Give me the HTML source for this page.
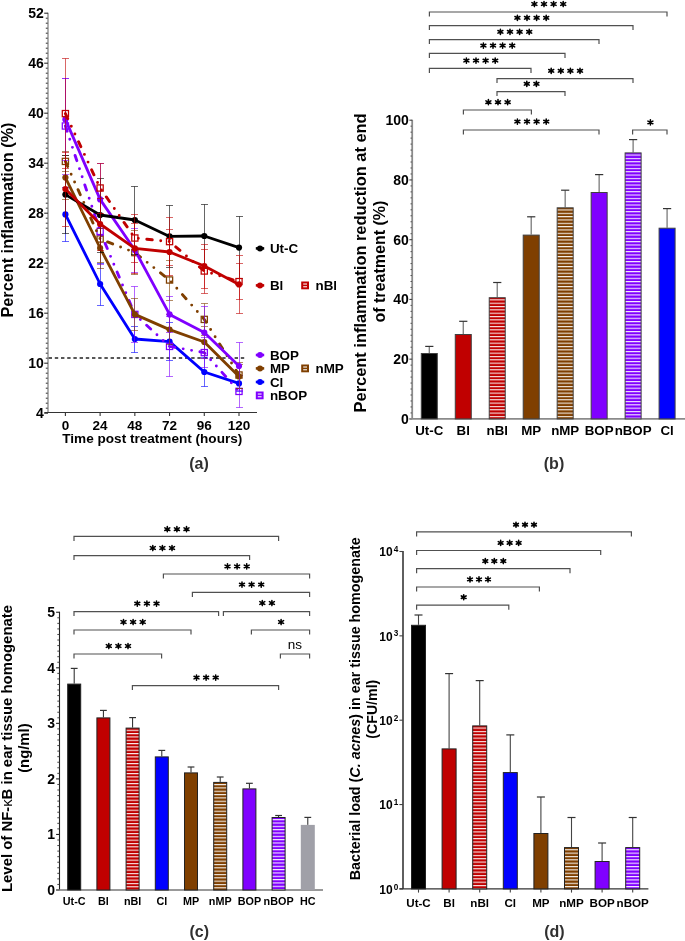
<!DOCTYPE html>
<html><head><meta charset="utf-8"><title>Figure</title>
<style>html,body{margin:0;padding:0;background:#fff;}svg{display:block;will-change:transform;}
text{font-family:"Liberation Sans", sans-serif;}</style></head>
<body>
<svg width="685" height="941" viewBox="0 0 685 941" font-family="'Liberation Sans', sans-serif"><defs><pattern id="p1" patternUnits="userSpaceOnUse" x="0" y="299.35" width="20" height="3.33"><rect width="20" height="3.33" fill="#c00000"/><rect y="0" width="20" height="1.1" fill="#fff" opacity="0.92"/></pattern><pattern id="p2" patternUnits="userSpaceOnUse" x="0" y="209.45" width="20" height="3.33"><rect width="20" height="3.33" fill="#7f3f00"/><rect y="0" width="20" height="1.1" fill="#fff" opacity="0.92"/></pattern><pattern id="p3" patternUnits="userSpaceOnUse" x="0" y="154.55" width="20" height="3.33"><rect width="20" height="3.33" fill="#8000ff"/><rect y="0" width="20" height="1.1" fill="#fff" opacity="0.92"/></pattern><pattern id="p4" patternUnits="userSpaceOnUse" x="0" y="729.75" width="20" height="3.33"><rect width="20" height="3.33" fill="#c00000"/><rect y="0" width="20" height="1.1" fill="#fff" opacity="0.92"/></pattern><pattern id="p5" patternUnits="userSpaceOnUse" x="0" y="784.05" width="20" height="3.33"><rect width="20" height="3.33" fill="#7f3f00"/><rect y="0" width="20" height="1.1" fill="#fff" opacity="0.92"/></pattern><pattern id="p6" patternUnits="userSpaceOnUse" x="0" y="819.15" width="20" height="3.33"><rect width="20" height="3.33" fill="#8000ff"/><rect y="0" width="20" height="1.1" fill="#fff" opacity="0.92"/></pattern><pattern id="p7" patternUnits="userSpaceOnUse" x="0" y="727.55" width="20" height="3.35"><rect width="20" height="3.35" fill="#c00000"/><rect y="0" width="20" height="1.1" fill="#fff" opacity="0.92"/></pattern><pattern id="p8" patternUnits="userSpaceOnUse" x="0" y="849.25" width="20" height="3.35"><rect width="20" height="3.35" fill="#7f3f00"/><rect y="0" width="20" height="1.1" fill="#fff" opacity="0.92"/></pattern><pattern id="p9" patternUnits="userSpaceOnUse" x="0" y="849.25" width="20" height="3.35"><rect width="20" height="3.35" fill="#8000ff"/><rect y="0" width="20" height="1.1" fill="#fff" opacity="0.92"/></pattern></defs><rect width="685" height="941" fill="#fff"/><line x1="48" y1="12.7" x2="48" y2="412.5" stroke="#a8a8a8" stroke-width="1.8" />
<line x1="44.2" y1="13.2" x2="48" y2="13.2" stroke="#303030" stroke-width="1.1" />
<text x="43.9" y="18" font-size="14" font-weight="bold" fill="#000" text-anchor="end">52</text>
<line x1="45.8" y1="18.2" x2="47.7" y2="18.2" stroke="#303030" stroke-width="1" />
<line x1="45.8" y1="23.2" x2="47.7" y2="23.2" stroke="#303030" stroke-width="1" />
<line x1="45.8" y1="28.2" x2="47.7" y2="28.2" stroke="#303030" stroke-width="1" />
<line x1="45.8" y1="33.2" x2="47.7" y2="33.2" stroke="#303030" stroke-width="1" />
<line x1="45.8" y1="38.2" x2="47.7" y2="38.2" stroke="#303030" stroke-width="1" />
<line x1="45.8" y1="43.2" x2="47.7" y2="43.2" stroke="#303030" stroke-width="1" />
<line x1="45.8" y1="48.2" x2="47.7" y2="48.2" stroke="#303030" stroke-width="1" />
<line x1="45.8" y1="53.2" x2="47.7" y2="53.2" stroke="#303030" stroke-width="1" />
<line x1="45.8" y1="58.2" x2="47.7" y2="58.2" stroke="#303030" stroke-width="1" />
<line x1="44.2" y1="63.2" x2="48" y2="63.2" stroke="#303030" stroke-width="1.1" />
<text x="43.9" y="68" font-size="14" font-weight="bold" fill="#000" text-anchor="end">46</text>
<line x1="45.8" y1="68.2" x2="47.7" y2="68.2" stroke="#303030" stroke-width="1" />
<line x1="45.8" y1="73.2" x2="47.7" y2="73.2" stroke="#303030" stroke-width="1" />
<line x1="45.8" y1="78.2" x2="47.7" y2="78.2" stroke="#303030" stroke-width="1" />
<line x1="45.8" y1="83.2" x2="47.7" y2="83.2" stroke="#303030" stroke-width="1" />
<line x1="45.8" y1="88.2" x2="47.7" y2="88.2" stroke="#303030" stroke-width="1" />
<line x1="45.8" y1="93.2" x2="47.7" y2="93.2" stroke="#303030" stroke-width="1" />
<line x1="45.8" y1="98.2" x2="47.7" y2="98.2" stroke="#303030" stroke-width="1" />
<line x1="45.8" y1="103.2" x2="47.7" y2="103.2" stroke="#303030" stroke-width="1" />
<line x1="45.8" y1="108.2" x2="47.7" y2="108.2" stroke="#303030" stroke-width="1" />
<line x1="44.2" y1="113.2" x2="48" y2="113.2" stroke="#303030" stroke-width="1.1" />
<text x="43.9" y="118" font-size="14" font-weight="bold" fill="#000" text-anchor="end">40</text>
<line x1="45.8" y1="118.2" x2="47.7" y2="118.2" stroke="#303030" stroke-width="1" />
<line x1="45.8" y1="123.2" x2="47.7" y2="123.2" stroke="#303030" stroke-width="1" />
<line x1="45.8" y1="128.2" x2="47.7" y2="128.2" stroke="#303030" stroke-width="1" />
<line x1="45.8" y1="133.2" x2="47.7" y2="133.2" stroke="#303030" stroke-width="1" />
<line x1="45.8" y1="138.2" x2="47.7" y2="138.2" stroke="#303030" stroke-width="1" />
<line x1="45.8" y1="143.2" x2="47.7" y2="143.2" stroke="#303030" stroke-width="1" />
<line x1="45.8" y1="148.2" x2="47.7" y2="148.2" stroke="#303030" stroke-width="1" />
<line x1="45.8" y1="153.2" x2="47.7" y2="153.2" stroke="#303030" stroke-width="1" />
<line x1="45.8" y1="158.2" x2="47.7" y2="158.2" stroke="#303030" stroke-width="1" />
<line x1="44.2" y1="163.2" x2="48" y2="163.2" stroke="#303030" stroke-width="1.1" />
<text x="43.9" y="168" font-size="14" font-weight="bold" fill="#000" text-anchor="end">34</text>
<line x1="45.8" y1="168.2" x2="47.7" y2="168.2" stroke="#303030" stroke-width="1" />
<line x1="45.8" y1="173.2" x2="47.7" y2="173.2" stroke="#303030" stroke-width="1" />
<line x1="45.8" y1="178.2" x2="47.7" y2="178.2" stroke="#303030" stroke-width="1" />
<line x1="45.8" y1="183.2" x2="47.7" y2="183.2" stroke="#303030" stroke-width="1" />
<line x1="45.8" y1="188.2" x2="47.7" y2="188.2" stroke="#303030" stroke-width="1" />
<line x1="45.8" y1="193.2" x2="47.7" y2="193.2" stroke="#303030" stroke-width="1" />
<line x1="45.8" y1="198.2" x2="47.7" y2="198.2" stroke="#303030" stroke-width="1" />
<line x1="45.8" y1="203.2" x2="47.7" y2="203.2" stroke="#303030" stroke-width="1" />
<line x1="45.8" y1="208.2" x2="47.7" y2="208.2" stroke="#303030" stroke-width="1" />
<line x1="44.2" y1="213.2" x2="48" y2="213.2" stroke="#303030" stroke-width="1.1" />
<text x="43.9" y="218" font-size="14" font-weight="bold" fill="#000" text-anchor="end">28</text>
<line x1="45.8" y1="218.2" x2="47.7" y2="218.2" stroke="#303030" stroke-width="1" />
<line x1="45.8" y1="223.2" x2="47.7" y2="223.2" stroke="#303030" stroke-width="1" />
<line x1="45.8" y1="228.2" x2="47.7" y2="228.2" stroke="#303030" stroke-width="1" />
<line x1="45.8" y1="233.2" x2="47.7" y2="233.2" stroke="#303030" stroke-width="1" />
<line x1="45.8" y1="238.2" x2="47.7" y2="238.2" stroke="#303030" stroke-width="1" />
<line x1="45.8" y1="243.2" x2="47.7" y2="243.2" stroke="#303030" stroke-width="1" />
<line x1="45.8" y1="248.2" x2="47.7" y2="248.2" stroke="#303030" stroke-width="1" />
<line x1="45.8" y1="253.2" x2="47.7" y2="253.2" stroke="#303030" stroke-width="1" />
<line x1="45.8" y1="258.2" x2="47.7" y2="258.2" stroke="#303030" stroke-width="1" />
<line x1="44.2" y1="263.2" x2="48" y2="263.2" stroke="#303030" stroke-width="1.1" />
<text x="43.9" y="268" font-size="14" font-weight="bold" fill="#000" text-anchor="end">22</text>
<line x1="45.8" y1="268.2" x2="47.7" y2="268.2" stroke="#303030" stroke-width="1" />
<line x1="45.8" y1="273.2" x2="47.7" y2="273.2" stroke="#303030" stroke-width="1" />
<line x1="45.8" y1="278.2" x2="47.7" y2="278.2" stroke="#303030" stroke-width="1" />
<line x1="45.8" y1="283.2" x2="47.7" y2="283.2" stroke="#303030" stroke-width="1" />
<line x1="45.8" y1="288.2" x2="47.7" y2="288.2" stroke="#303030" stroke-width="1" />
<line x1="45.8" y1="293.2" x2="47.7" y2="293.2" stroke="#303030" stroke-width="1" />
<line x1="45.8" y1="298.2" x2="47.7" y2="298.2" stroke="#303030" stroke-width="1" />
<line x1="45.8" y1="303.2" x2="47.7" y2="303.2" stroke="#303030" stroke-width="1" />
<line x1="45.8" y1="308.2" x2="47.7" y2="308.2" stroke="#303030" stroke-width="1" />
<line x1="44.2" y1="313.2" x2="48" y2="313.2" stroke="#303030" stroke-width="1.1" />
<text x="43.9" y="318" font-size="14" font-weight="bold" fill="#000" text-anchor="end">16</text>
<line x1="45.8" y1="318.2" x2="47.7" y2="318.2" stroke="#303030" stroke-width="1" />
<line x1="45.8" y1="323.2" x2="47.7" y2="323.2" stroke="#303030" stroke-width="1" />
<line x1="45.8" y1="328.2" x2="47.7" y2="328.2" stroke="#303030" stroke-width="1" />
<line x1="45.8" y1="333.2" x2="47.7" y2="333.2" stroke="#303030" stroke-width="1" />
<line x1="45.8" y1="338.2" x2="47.7" y2="338.2" stroke="#303030" stroke-width="1" />
<line x1="45.8" y1="343.2" x2="47.7" y2="343.2" stroke="#303030" stroke-width="1" />
<line x1="45.8" y1="348.2" x2="47.7" y2="348.2" stroke="#303030" stroke-width="1" />
<line x1="45.8" y1="353.2" x2="47.7" y2="353.2" stroke="#303030" stroke-width="1" />
<line x1="45.8" y1="358.2" x2="47.7" y2="358.2" stroke="#303030" stroke-width="1" />
<line x1="44.2" y1="363.2" x2="48" y2="363.2" stroke="#303030" stroke-width="1.1" />
<text x="43.9" y="368" font-size="14" font-weight="bold" fill="#000" text-anchor="end">10</text>
<line x1="45.8" y1="368.2" x2="47.7" y2="368.2" stroke="#303030" stroke-width="1" />
<line x1="45.8" y1="373.2" x2="47.7" y2="373.2" stroke="#303030" stroke-width="1" />
<line x1="45.8" y1="378.2" x2="47.7" y2="378.2" stroke="#303030" stroke-width="1" />
<line x1="45.8" y1="383.2" x2="47.7" y2="383.2" stroke="#303030" stroke-width="1" />
<line x1="45.8" y1="388.2" x2="47.7" y2="388.2" stroke="#303030" stroke-width="1" />
<line x1="45.8" y1="393.2" x2="47.7" y2="393.2" stroke="#303030" stroke-width="1" />
<line x1="45.8" y1="398.2" x2="47.7" y2="398.2" stroke="#303030" stroke-width="1" />
<line x1="45.8" y1="403.2" x2="47.7" y2="403.2" stroke="#303030" stroke-width="1" />
<line x1="45.8" y1="408.2" x2="47.7" y2="408.2" stroke="#303030" stroke-width="1" />
<line x1="44.2" y1="413.2" x2="48" y2="413.2" stroke="#303030" stroke-width="1.1" />
<text x="43.9" y="418" font-size="14" font-weight="bold" fill="#000" text-anchor="end">4</text>
<line x1="44.4" y1="412.5" x2="257" y2="412.5" stroke="#333" stroke-width="1.1" />
<line x1="65.4" y1="412.5" x2="65.4" y2="415.9" stroke="#333" stroke-width="1.1" />
<text x="65.4" y="429.6" font-size="13.5" font-weight="bold" fill="#000" text-anchor="middle">0</text>
<line x1="100.12" y1="412.5" x2="100.12" y2="415.9" stroke="#333" stroke-width="1.1" />
<text x="100.12" y="429.6" font-size="13.5" font-weight="bold" fill="#000" text-anchor="middle">24</text>
<line x1="134.84" y1="412.5" x2="134.84" y2="415.9" stroke="#333" stroke-width="1.1" />
<text x="134.84" y="429.6" font-size="13.5" font-weight="bold" fill="#000" text-anchor="middle">48</text>
<line x1="169.56" y1="412.5" x2="169.56" y2="415.9" stroke="#333" stroke-width="1.1" />
<text x="169.56" y="429.6" font-size="13.5" font-weight="bold" fill="#000" text-anchor="middle">72</text>
<line x1="204.28" y1="412.5" x2="204.28" y2="415.9" stroke="#333" stroke-width="1.1" />
<text x="204.28" y="429.6" font-size="13.5" font-weight="bold" fill="#000" text-anchor="middle">96</text>
<line x1="239" y1="412.5" x2="239" y2="415.9" stroke="#333" stroke-width="1.1" />
<text x="239" y="429.6" font-size="13.5" font-weight="bold" fill="#000" text-anchor="middle">120</text>
<text x="152.3" y="442.6" font-size="13.5" font-weight="bold" fill="#000" text-anchor="middle" textLength="180" lengthAdjust="spacingAndGlyphs">Time post treatment (hours)</text>
<text transform="translate(13,220) rotate(-90)" font-size="16.5" font-weight="bold" fill="#000" text-anchor="middle" textLength="195" lengthAdjust="spacingAndGlyphs">Percent inflammation (%)</text>
<text x="199" y="468.6" font-size="16" font-weight="bold" fill="#303030" text-anchor="middle">(a)</text>
<line x1="48.6" y1="358" x2="244.6" y2="358" stroke="#202020" stroke-width="1.6" stroke-dasharray="3.4 2.8"/>
<polyline points="65.4,214.4 100.12,284 134.84,339 169.56,341.6 204.28,372 239,383.4" fill="none" stroke="#0000ff" stroke-width="2.8" stroke-linejoin="round"/>
<circle cx="65.4" cy="214.4" r="3.1" fill="#0000ff"/>
<circle cx="100.12" cy="284" r="3.1" fill="#0000ff"/>
<circle cx="134.84" cy="339" r="3.1" fill="#0000ff"/>
<circle cx="169.56" cy="341.6" r="3.1" fill="#0000ff"/>
<circle cx="204.28" cy="372" r="3.1" fill="#0000ff"/>
<circle cx="239" cy="383.4" r="3.1" fill="#0000ff"/>
<line x1="65.5" y1="187.5" x2="65.5" y2="241.5" stroke="#0000ff" stroke-width="1" stroke-opacity="0.6"/>
<line x1="62" y1="187.5" x2="69" y2="187.5" stroke="#0000ff" stroke-width="1" stroke-opacity="0.6"/>
<line x1="62" y1="241.5" x2="69" y2="241.5" stroke="#0000ff" stroke-width="1" stroke-opacity="0.6"/>
<line x1="100.5" y1="263.5" x2="100.5" y2="305.5" stroke="#0000ff" stroke-width="1" stroke-opacity="0.6"/>
<line x1="97" y1="263.5" x2="104" y2="263.5" stroke="#0000ff" stroke-width="1" stroke-opacity="0.6"/>
<line x1="97" y1="305.5" x2="104" y2="305.5" stroke="#0000ff" stroke-width="1" stroke-opacity="0.6"/>
<line x1="134.5" y1="326.5" x2="134.5" y2="352.5" stroke="#0000ff" stroke-width="1" stroke-opacity="0.6"/>
<line x1="131" y1="326.5" x2="138" y2="326.5" stroke="#0000ff" stroke-width="1" stroke-opacity="0.6"/>
<line x1="131" y1="352.5" x2="138" y2="352.5" stroke="#0000ff" stroke-width="1" stroke-opacity="0.6"/>
<line x1="169.5" y1="322.5" x2="169.5" y2="360.5" stroke="#0000ff" stroke-width="1" stroke-opacity="0.6"/>
<line x1="166" y1="322.5" x2="173" y2="322.5" stroke="#0000ff" stroke-width="1" stroke-opacity="0.6"/>
<line x1="166" y1="360.5" x2="173" y2="360.5" stroke="#0000ff" stroke-width="1" stroke-opacity="0.6"/>
<line x1="204.5" y1="357.5" x2="204.5" y2="386.5" stroke="#0000ff" stroke-width="1" stroke-opacity="0.6"/>
<line x1="201" y1="357.5" x2="208" y2="357.5" stroke="#0000ff" stroke-width="1" stroke-opacity="0.6"/>
<line x1="201" y1="386.5" x2="208" y2="386.5" stroke="#0000ff" stroke-width="1" stroke-opacity="0.6"/>
<line x1="239.5" y1="375.5" x2="239.5" y2="391.5" stroke="#0000ff" stroke-width="1" stroke-opacity="0.6"/>
<line x1="236" y1="375.5" x2="243" y2="375.5" stroke="#0000ff" stroke-width="1" stroke-opacity="0.6"/>
<line x1="236" y1="391.5" x2="243" y2="391.5" stroke="#0000ff" stroke-width="1" stroke-opacity="0.6"/>
<polyline points="65.4,126 100.12,231.4 134.84,314.4 169.56,346.4 204.28,352.6 239,391.4" fill="none" stroke="#8000ff" stroke-width="2.9" stroke-linecap="round" stroke-linejoin="round" stroke-dasharray="5.5 8.5 0 8.5 0 8.5"/>
<rect x="62.3" y="122.9" width="6.2" height="6.2" fill="none" stroke="#8000ff" stroke-width="1.25"/>
<rect x="97.02" y="228.3" width="6.2" height="6.2" fill="none" stroke="#8000ff" stroke-width="1.25"/>
<rect x="131.74" y="311.3" width="6.2" height="6.2" fill="none" stroke="#8000ff" stroke-width="1.25"/>
<rect x="166.46" y="343.3" width="6.2" height="6.2" fill="none" stroke="#8000ff" stroke-width="1.25"/>
<rect x="201.18" y="349.5" width="6.2" height="6.2" fill="none" stroke="#8000ff" stroke-width="1.25"/>
<rect x="235.9" y="388.3" width="6.2" height="6.2" fill="none" stroke="#8000ff" stroke-width="1.25"/>
<line x1="65.5" y1="78.5" x2="65.5" y2="174.5" stroke="#8000ff" stroke-width="1" stroke-opacity="0.6"/>
<line x1="62" y1="78.5" x2="69" y2="78.5" stroke="#8000ff" stroke-width="1" stroke-opacity="0.6"/>
<line x1="62" y1="174.5" x2="69" y2="174.5" stroke="#8000ff" stroke-width="1" stroke-opacity="0.6"/>
<line x1="100.5" y1="198.5" x2="100.5" y2="264.5" stroke="#8000ff" stroke-width="1" stroke-opacity="0.6"/>
<line x1="97" y1="198.5" x2="104" y2="198.5" stroke="#8000ff" stroke-width="1" stroke-opacity="0.6"/>
<line x1="97" y1="264.5" x2="104" y2="264.5" stroke="#8000ff" stroke-width="1" stroke-opacity="0.6"/>
<line x1="134.5" y1="286.5" x2="134.5" y2="342.5" stroke="#8000ff" stroke-width="1" stroke-opacity="0.6"/>
<line x1="131" y1="286.5" x2="138" y2="286.5" stroke="#8000ff" stroke-width="1" stroke-opacity="0.6"/>
<line x1="131" y1="342.5" x2="138" y2="342.5" stroke="#8000ff" stroke-width="1" stroke-opacity="0.6"/>
<line x1="169.5" y1="316.5" x2="169.5" y2="376.5" stroke="#8000ff" stroke-width="1" stroke-opacity="0.6"/>
<line x1="166" y1="316.5" x2="173" y2="316.5" stroke="#8000ff" stroke-width="1" stroke-opacity="0.6"/>
<line x1="166" y1="376.5" x2="173" y2="376.5" stroke="#8000ff" stroke-width="1" stroke-opacity="0.6"/>
<line x1="204.5" y1="337.5" x2="204.5" y2="367.5" stroke="#8000ff" stroke-width="1" stroke-opacity="0.6"/>
<line x1="201" y1="337.5" x2="208" y2="337.5" stroke="#8000ff" stroke-width="1" stroke-opacity="0.6"/>
<line x1="201" y1="367.5" x2="208" y2="367.5" stroke="#8000ff" stroke-width="1" stroke-opacity="0.6"/>
<line x1="239.5" y1="375.5" x2="239.5" y2="407.5" stroke="#8000ff" stroke-width="1" stroke-opacity="0.6"/>
<line x1="236" y1="375.5" x2="243" y2="375.5" stroke="#8000ff" stroke-width="1" stroke-opacity="0.6"/>
<line x1="236" y1="407.5" x2="243" y2="407.5" stroke="#8000ff" stroke-width="1" stroke-opacity="0.6"/>
<polyline points="65.4,177.6 100.12,248 134.84,314.4 169.56,329.6 204.28,342 239,376.4" fill="none" stroke="#7f3f00" stroke-width="2.8" stroke-linejoin="round"/>
<circle cx="65.4" cy="177.6" r="3.1" fill="#7f3f00"/>
<circle cx="100.12" cy="248" r="3.1" fill="#7f3f00"/>
<circle cx="134.84" cy="314.4" r="3.1" fill="#7f3f00"/>
<circle cx="169.56" cy="329.6" r="3.1" fill="#7f3f00"/>
<circle cx="204.28" cy="342" r="3.1" fill="#7f3f00"/>
<circle cx="239" cy="376.4" r="3.1" fill="#7f3f00"/>
<line x1="65.5" y1="155.5" x2="65.5" y2="199.5" stroke="#7f3f00" stroke-width="1" stroke-opacity="0.6"/>
<line x1="62" y1="155.5" x2="69" y2="155.5" stroke="#7f3f00" stroke-width="1" stroke-opacity="0.6"/>
<line x1="62" y1="199.5" x2="69" y2="199.5" stroke="#7f3f00" stroke-width="1" stroke-opacity="0.6"/>
<line x1="100.5" y1="228.5" x2="100.5" y2="268.5" stroke="#7f3f00" stroke-width="1" stroke-opacity="0.6"/>
<line x1="97" y1="228.5" x2="104" y2="228.5" stroke="#7f3f00" stroke-width="1" stroke-opacity="0.6"/>
<line x1="97" y1="268.5" x2="104" y2="268.5" stroke="#7f3f00" stroke-width="1" stroke-opacity="0.6"/>
<line x1="134.5" y1="298.5" x2="134.5" y2="330.5" stroke="#7f3f00" stroke-width="1" stroke-opacity="0.6"/>
<line x1="131" y1="298.5" x2="138" y2="298.5" stroke="#7f3f00" stroke-width="1" stroke-opacity="0.6"/>
<line x1="131" y1="330.5" x2="138" y2="330.5" stroke="#7f3f00" stroke-width="1" stroke-opacity="0.6"/>
<line x1="169.5" y1="314.5" x2="169.5" y2="344.5" stroke="#7f3f00" stroke-width="1" stroke-opacity="0.6"/>
<line x1="166" y1="314.5" x2="173" y2="314.5" stroke="#7f3f00" stroke-width="1" stroke-opacity="0.6"/>
<line x1="166" y1="344.5" x2="173" y2="344.5" stroke="#7f3f00" stroke-width="1" stroke-opacity="0.6"/>
<line x1="204.5" y1="326.5" x2="204.5" y2="358.5" stroke="#7f3f00" stroke-width="1" stroke-opacity="0.6"/>
<line x1="201" y1="326.5" x2="208" y2="326.5" stroke="#7f3f00" stroke-width="1" stroke-opacity="0.6"/>
<line x1="201" y1="358.5" x2="208" y2="358.5" stroke="#7f3f00" stroke-width="1" stroke-opacity="0.6"/>
<line x1="239.5" y1="364.5" x2="239.5" y2="388.5" stroke="#7f3f00" stroke-width="1" stroke-opacity="0.6"/>
<line x1="236" y1="364.5" x2="243" y2="364.5" stroke="#7f3f00" stroke-width="1" stroke-opacity="0.6"/>
<line x1="236" y1="388.5" x2="243" y2="388.5" stroke="#7f3f00" stroke-width="1" stroke-opacity="0.6"/>
<polyline points="65.4,161.4 100.12,239 134.84,252.6 169.56,280 204.28,319.4 239,375" fill="none" stroke="#7f3f00" stroke-width="2.9" stroke-linecap="round" stroke-linejoin="round" stroke-dasharray="5.5 8.5 0 8.5 0 8.5"/>
<rect x="62.3" y="158.3" width="6.2" height="6.2" fill="none" stroke="#7f3f00" stroke-width="1.25"/>
<rect x="97.02" y="235.9" width="6.2" height="6.2" fill="none" stroke="#7f3f00" stroke-width="1.25"/>
<rect x="131.74" y="249.5" width="6.2" height="6.2" fill="none" stroke="#7f3f00" stroke-width="1.25"/>
<rect x="166.46" y="276.9" width="6.2" height="6.2" fill="none" stroke="#7f3f00" stroke-width="1.25"/>
<rect x="201.18" y="316.3" width="6.2" height="6.2" fill="none" stroke="#7f3f00" stroke-width="1.25"/>
<rect x="235.9" y="371.9" width="6.2" height="6.2" fill="none" stroke="#7f3f00" stroke-width="1.25"/>
<line x1="65.5" y1="151.5" x2="65.5" y2="171.5" stroke="#7f3f00" stroke-width="1" stroke-opacity="0.6"/>
<line x1="62" y1="151.5" x2="69" y2="151.5" stroke="#7f3f00" stroke-width="1" stroke-opacity="0.6"/>
<line x1="62" y1="171.5" x2="69" y2="171.5" stroke="#7f3f00" stroke-width="1" stroke-opacity="0.6"/>
<line x1="100.5" y1="216.5" x2="100.5" y2="262.5" stroke="#7f3f00" stroke-width="1" stroke-opacity="0.6"/>
<line x1="97" y1="216.5" x2="104" y2="216.5" stroke="#7f3f00" stroke-width="1" stroke-opacity="0.6"/>
<line x1="97" y1="262.5" x2="104" y2="262.5" stroke="#7f3f00" stroke-width="1" stroke-opacity="0.6"/>
<line x1="134.5" y1="230.5" x2="134.5" y2="274.5" stroke="#7f3f00" stroke-width="1" stroke-opacity="0.6"/>
<line x1="131" y1="230.5" x2="138" y2="230.5" stroke="#7f3f00" stroke-width="1" stroke-opacity="0.6"/>
<line x1="131" y1="274.5" x2="138" y2="274.5" stroke="#7f3f00" stroke-width="1" stroke-opacity="0.6"/>
<line x1="169.5" y1="260.5" x2="169.5" y2="300.5" stroke="#7f3f00" stroke-width="1" stroke-opacity="0.6"/>
<line x1="166" y1="260.5" x2="173" y2="260.5" stroke="#7f3f00" stroke-width="1" stroke-opacity="0.6"/>
<line x1="166" y1="300.5" x2="173" y2="300.5" stroke="#7f3f00" stroke-width="1" stroke-opacity="0.6"/>
<line x1="204.5" y1="303.5" x2="204.5" y2="335.5" stroke="#7f3f00" stroke-width="1" stroke-opacity="0.6"/>
<line x1="201" y1="303.5" x2="208" y2="303.5" stroke="#7f3f00" stroke-width="1" stroke-opacity="0.6"/>
<line x1="201" y1="335.5" x2="208" y2="335.5" stroke="#7f3f00" stroke-width="1" stroke-opacity="0.6"/>
<line x1="239.5" y1="362.5" x2="239.5" y2="388.5" stroke="#7f3f00" stroke-width="1" stroke-opacity="0.6"/>
<line x1="236" y1="362.5" x2="243" y2="362.5" stroke="#7f3f00" stroke-width="1" stroke-opacity="0.6"/>
<line x1="236" y1="388.5" x2="243" y2="388.5" stroke="#7f3f00" stroke-width="1" stroke-opacity="0.6"/>
<polyline points="65.4,119.4 100.12,199.4 134.84,250 169.56,314.4 204.28,332.6 239,366" fill="none" stroke="#8000ff" stroke-width="2.8" stroke-linejoin="round"/>
<circle cx="65.4" cy="119.4" r="3.1" fill="#8000ff"/>
<circle cx="100.12" cy="199.4" r="3.1" fill="#8000ff"/>
<circle cx="134.84" cy="250" r="3.1" fill="#8000ff"/>
<circle cx="169.56" cy="314.4" r="3.1" fill="#8000ff"/>
<circle cx="204.28" cy="332.6" r="3.1" fill="#8000ff"/>
<circle cx="239" cy="366" r="3.1" fill="#8000ff"/>
<line x1="65.5" y1="78.5" x2="65.5" y2="160.5" stroke="#8000ff" stroke-width="1" stroke-opacity="0.6"/>
<line x1="62" y1="78.5" x2="69" y2="78.5" stroke="#8000ff" stroke-width="1" stroke-opacity="0.6"/>
<line x1="62" y1="160.5" x2="69" y2="160.5" stroke="#8000ff" stroke-width="1" stroke-opacity="0.6"/>
<line x1="100.5" y1="163.5" x2="100.5" y2="235.5" stroke="#8000ff" stroke-width="1" stroke-opacity="0.6"/>
<line x1="97" y1="163.5" x2="104" y2="163.5" stroke="#8000ff" stroke-width="1" stroke-opacity="0.6"/>
<line x1="97" y1="235.5" x2="104" y2="235.5" stroke="#8000ff" stroke-width="1" stroke-opacity="0.6"/>
<line x1="134.5" y1="228.5" x2="134.5" y2="272.5" stroke="#8000ff" stroke-width="1" stroke-opacity="0.6"/>
<line x1="131" y1="228.5" x2="138" y2="228.5" stroke="#8000ff" stroke-width="1" stroke-opacity="0.6"/>
<line x1="131" y1="272.5" x2="138" y2="272.5" stroke="#8000ff" stroke-width="1" stroke-opacity="0.6"/>
<line x1="169.5" y1="296.5" x2="169.5" y2="332.5" stroke="#8000ff" stroke-width="1" stroke-opacity="0.6"/>
<line x1="166" y1="296.5" x2="173" y2="296.5" stroke="#8000ff" stroke-width="1" stroke-opacity="0.6"/>
<line x1="166" y1="332.5" x2="173" y2="332.5" stroke="#8000ff" stroke-width="1" stroke-opacity="0.6"/>
<line x1="204.5" y1="306.5" x2="204.5" y2="358.5" stroke="#8000ff" stroke-width="1" stroke-opacity="0.6"/>
<line x1="201" y1="306.5" x2="208" y2="306.5" stroke="#8000ff" stroke-width="1" stroke-opacity="0.6"/>
<line x1="201" y1="358.5" x2="208" y2="358.5" stroke="#8000ff" stroke-width="1" stroke-opacity="0.6"/>
<line x1="239.5" y1="342.5" x2="239.5" y2="390.5" stroke="#8000ff" stroke-width="1" stroke-opacity="0.6"/>
<line x1="236" y1="342.5" x2="243" y2="342.5" stroke="#8000ff" stroke-width="1" stroke-opacity="0.6"/>
<line x1="236" y1="390.5" x2="243" y2="390.5" stroke="#8000ff" stroke-width="1" stroke-opacity="0.6"/>
<polyline points="65.4,194.6 100.12,215 134.84,220 169.56,236.4 204.28,236 239,247.6" fill="none" stroke="#000000" stroke-width="2.8" stroke-linejoin="round"/>
<circle cx="65.4" cy="194.6" r="3.1" fill="#000000"/>
<circle cx="100.12" cy="215" r="3.1" fill="#000000"/>
<circle cx="134.84" cy="220" r="3.1" fill="#000000"/>
<circle cx="169.56" cy="236.4" r="3.1" fill="#000000"/>
<circle cx="204.28" cy="236" r="3.1" fill="#000000"/>
<circle cx="239" cy="247.6" r="3.1" fill="#000000"/>
<line x1="65.5" y1="155.5" x2="65.5" y2="233.5" stroke="#000000" stroke-width="1" stroke-opacity="0.6"/>
<line x1="62" y1="155.5" x2="69" y2="155.5" stroke="#000000" stroke-width="1" stroke-opacity="0.6"/>
<line x1="62" y1="233.5" x2="69" y2="233.5" stroke="#000000" stroke-width="1" stroke-opacity="0.6"/>
<line x1="100.5" y1="178.5" x2="100.5" y2="252.5" stroke="#000000" stroke-width="1" stroke-opacity="0.6"/>
<line x1="97" y1="178.5" x2="104" y2="178.5" stroke="#000000" stroke-width="1" stroke-opacity="0.6"/>
<line x1="97" y1="252.5" x2="104" y2="252.5" stroke="#000000" stroke-width="1" stroke-opacity="0.6"/>
<line x1="134.5" y1="186.5" x2="134.5" y2="254.5" stroke="#000000" stroke-width="1" stroke-opacity="0.6"/>
<line x1="131" y1="186.5" x2="138" y2="186.5" stroke="#000000" stroke-width="1" stroke-opacity="0.6"/>
<line x1="131" y1="254.5" x2="138" y2="254.5" stroke="#000000" stroke-width="1" stroke-opacity="0.6"/>
<line x1="169.5" y1="205.5" x2="169.5" y2="267.5" stroke="#000000" stroke-width="1" stroke-opacity="0.6"/>
<line x1="166" y1="205.5" x2="173" y2="205.5" stroke="#000000" stroke-width="1" stroke-opacity="0.6"/>
<line x1="166" y1="267.5" x2="173" y2="267.5" stroke="#000000" stroke-width="1" stroke-opacity="0.6"/>
<line x1="204.5" y1="204.5" x2="204.5" y2="268.5" stroke="#000000" stroke-width="1" stroke-opacity="0.6"/>
<line x1="201" y1="204.5" x2="208" y2="204.5" stroke="#000000" stroke-width="1" stroke-opacity="0.6"/>
<line x1="201" y1="268.5" x2="208" y2="268.5" stroke="#000000" stroke-width="1" stroke-opacity="0.6"/>
<line x1="239.5" y1="216.5" x2="239.5" y2="278.5" stroke="#000000" stroke-width="1" stroke-opacity="0.6"/>
<line x1="236" y1="216.5" x2="243" y2="216.5" stroke="#000000" stroke-width="1" stroke-opacity="0.6"/>
<line x1="236" y1="278.5" x2="243" y2="278.5" stroke="#000000" stroke-width="1" stroke-opacity="0.6"/>
<polyline points="65.4,189 100.12,224 134.84,248.4 169.56,252 204.28,266 239,284.4" fill="none" stroke="#c00000" stroke-width="2.8" stroke-linejoin="round"/>
<circle cx="65.4" cy="189" r="3.1" fill="#c00000"/>
<circle cx="100.12" cy="224" r="3.1" fill="#c00000"/>
<circle cx="134.84" cy="248.4" r="3.1" fill="#c00000"/>
<circle cx="169.56" cy="252" r="3.1" fill="#c00000"/>
<circle cx="204.28" cy="266" r="3.1" fill="#c00000"/>
<circle cx="239" cy="284.4" r="3.1" fill="#c00000"/>
<line x1="65.5" y1="152.5" x2="65.5" y2="226.5" stroke="#c00000" stroke-width="1" stroke-opacity="0.6"/>
<line x1="62" y1="152.5" x2="69" y2="152.5" stroke="#c00000" stroke-width="1" stroke-opacity="0.6"/>
<line x1="62" y1="226.5" x2="69" y2="226.5" stroke="#c00000" stroke-width="1" stroke-opacity="0.6"/>
<line x1="100.5" y1="198.5" x2="100.5" y2="250.5" stroke="#c00000" stroke-width="1" stroke-opacity="0.6"/>
<line x1="97" y1="198.5" x2="104" y2="198.5" stroke="#c00000" stroke-width="1" stroke-opacity="0.6"/>
<line x1="97" y1="250.5" x2="104" y2="250.5" stroke="#c00000" stroke-width="1" stroke-opacity="0.6"/>
<line x1="134.5" y1="223.5" x2="134.5" y2="273.5" stroke="#c00000" stroke-width="1" stroke-opacity="0.6"/>
<line x1="131" y1="223.5" x2="138" y2="223.5" stroke="#c00000" stroke-width="1" stroke-opacity="0.6"/>
<line x1="131" y1="273.5" x2="138" y2="273.5" stroke="#c00000" stroke-width="1" stroke-opacity="0.6"/>
<line x1="169.5" y1="229.5" x2="169.5" y2="275.5" stroke="#c00000" stroke-width="1" stroke-opacity="0.6"/>
<line x1="166" y1="229.5" x2="173" y2="229.5" stroke="#c00000" stroke-width="1" stroke-opacity="0.6"/>
<line x1="166" y1="275.5" x2="173" y2="275.5" stroke="#c00000" stroke-width="1" stroke-opacity="0.6"/>
<line x1="204.5" y1="244.5" x2="204.5" y2="288.5" stroke="#c00000" stroke-width="1" stroke-opacity="0.6"/>
<line x1="201" y1="244.5" x2="208" y2="244.5" stroke="#c00000" stroke-width="1" stroke-opacity="0.6"/>
<line x1="201" y1="288.5" x2="208" y2="288.5" stroke="#c00000" stroke-width="1" stroke-opacity="0.6"/>
<line x1="239.5" y1="255.5" x2="239.5" y2="313.5" stroke="#c00000" stroke-width="1" stroke-opacity="0.6"/>
<line x1="236" y1="255.5" x2="243" y2="255.5" stroke="#c00000" stroke-width="1" stroke-opacity="0.6"/>
<line x1="236" y1="313.5" x2="243" y2="313.5" stroke="#c00000" stroke-width="1" stroke-opacity="0.6"/>
<polyline points="65.4,113.6 100.12,188 134.84,238 169.56,241.6 204.28,271 239,281.6" fill="none" stroke="#c00000" stroke-width="2.9" stroke-linecap="round" stroke-linejoin="round" stroke-dasharray="5.5 8.5 0 8.5 0 8.5"/>
<rect x="62.3" y="110.5" width="6.2" height="6.2" fill="none" stroke="#c00000" stroke-width="1.25"/>
<rect x="97.02" y="184.9" width="6.2" height="6.2" fill="none" stroke="#c00000" stroke-width="1.25"/>
<rect x="131.74" y="234.9" width="6.2" height="6.2" fill="none" stroke="#c00000" stroke-width="1.25"/>
<rect x="166.46" y="238.5" width="6.2" height="6.2" fill="none" stroke="#c00000" stroke-width="1.25"/>
<rect x="201.18" y="267.9" width="6.2" height="6.2" fill="none" stroke="#c00000" stroke-width="1.25"/>
<rect x="235.9" y="278.5" width="6.2" height="6.2" fill="none" stroke="#c00000" stroke-width="1.25"/>
<line x1="65.5" y1="58.5" x2="65.5" y2="168.5" stroke="#c00000" stroke-width="1" stroke-opacity="0.6"/>
<line x1="62" y1="58.5" x2="69" y2="58.5" stroke="#c00000" stroke-width="1" stroke-opacity="0.6"/>
<line x1="62" y1="168.5" x2="69" y2="168.5" stroke="#c00000" stroke-width="1" stroke-opacity="0.6"/>
<line x1="100.5" y1="163.5" x2="100.5" y2="213.5" stroke="#c00000" stroke-width="1" stroke-opacity="0.6"/>
<line x1="97" y1="163.5" x2="104" y2="163.5" stroke="#c00000" stroke-width="1" stroke-opacity="0.6"/>
<line x1="97" y1="213.5" x2="104" y2="213.5" stroke="#c00000" stroke-width="1" stroke-opacity="0.6"/>
<line x1="134.5" y1="214.5" x2="134.5" y2="262.5" stroke="#c00000" stroke-width="1" stroke-opacity="0.6"/>
<line x1="131" y1="214.5" x2="138" y2="214.5" stroke="#c00000" stroke-width="1" stroke-opacity="0.6"/>
<line x1="131" y1="262.5" x2="138" y2="262.5" stroke="#c00000" stroke-width="1" stroke-opacity="0.6"/>
<line x1="169.5" y1="217.5" x2="169.5" y2="265.5" stroke="#c00000" stroke-width="1" stroke-opacity="0.6"/>
<line x1="166" y1="217.5" x2="173" y2="217.5" stroke="#c00000" stroke-width="1" stroke-opacity="0.6"/>
<line x1="166" y1="265.5" x2="173" y2="265.5" stroke="#c00000" stroke-width="1" stroke-opacity="0.6"/>
<line x1="204.5" y1="249.5" x2="204.5" y2="293.5" stroke="#c00000" stroke-width="1" stroke-opacity="0.6"/>
<line x1="201" y1="249.5" x2="208" y2="249.5" stroke="#c00000" stroke-width="1" stroke-opacity="0.6"/>
<line x1="201" y1="293.5" x2="208" y2="293.5" stroke="#c00000" stroke-width="1" stroke-opacity="0.6"/>
<line x1="239.5" y1="263.5" x2="239.5" y2="299.5" stroke="#c00000" stroke-width="1" stroke-opacity="0.6"/>
<line x1="236" y1="263.5" x2="243" y2="263.5" stroke="#c00000" stroke-width="1" stroke-opacity="0.6"/>
<line x1="236" y1="299.5" x2="243" y2="299.5" stroke="#c00000" stroke-width="1" stroke-opacity="0.6"/>
<line x1="255.8" y1="248.4" x2="264.2" y2="248.4" stroke="#000000" stroke-width="2.6" />
<circle cx="260" cy="248.4" r="3.0" fill="#000000"/>
<text x="269.9" y="253.2" font-size="13.4" font-weight="bold" fill="#000" text-anchor="start">Ut-C</text>
<line x1="255.8" y1="285.4" x2="264.2" y2="285.4" stroke="#c00000" stroke-width="2.6" />
<circle cx="260" cy="285.4" r="3.0" fill="#c00000"/>
<text x="269.9" y="290.2" font-size="13.4" font-weight="bold" fill="#000" text-anchor="start">Bl</text>
<rect x="302.2" y="282.5" width="5.8" height="5.8" fill="#fff" stroke="#c00000" stroke-width="2.0"/>
<line x1="302.4" y1="285.4" x2="307.8" y2="285.4" stroke="#c00000" stroke-width="1.7" />
<text x="315.5" y="290.2" font-size="13.4" font-weight="bold" fill="#000" text-anchor="start">nBl</text>
<line x1="255.8" y1="355" x2="264.2" y2="355" stroke="#8000ff" stroke-width="2.6" />
<circle cx="260" cy="355" r="3.0" fill="#8000ff"/>
<text x="269.9" y="359.8" font-size="13.4" font-weight="bold" fill="#000" text-anchor="start">BOP</text>
<line x1="255.8" y1="368.4" x2="264.2" y2="368.4" stroke="#7f3f00" stroke-width="2.6" />
<circle cx="260" cy="368.4" r="3.0" fill="#7f3f00"/>
<text x="269.9" y="373.2" font-size="13.4" font-weight="bold" fill="#000" text-anchor="start">MP</text>
<rect x="302.2" y="365.5" width="5.8" height="5.8" fill="#fff" stroke="#7f3f00" stroke-width="2.0"/>
<line x1="302.4" y1="368.4" x2="307.8" y2="368.4" stroke="#7f3f00" stroke-width="1.7" />
<text x="315.5" y="373.2" font-size="13.4" font-weight="bold" fill="#000" text-anchor="start">nMP</text>
<line x1="255.8" y1="382" x2="264.2" y2="382" stroke="#0000ff" stroke-width="2.6" />
<circle cx="260" cy="382" r="3.0" fill="#0000ff"/>
<text x="269.9" y="386.8" font-size="13.4" font-weight="bold" fill="#000" text-anchor="start">Cl</text>
<rect x="256.8" y="392.5" width="5.8" height="5.8" fill="#fff" stroke="#8000ff" stroke-width="2.0"/>
<line x1="257" y1="395.4" x2="262.4" y2="395.4" stroke="#8000ff" stroke-width="1.7" />
<text x="269.9" y="400.2" font-size="13.4" font-weight="bold" fill="#000" text-anchor="start">nBOP</text>
<line x1="412.2" y1="119.7" x2="412.2" y2="418.9" stroke="#8a8a8a" stroke-width="1.8" />
<line x1="409.4" y1="418.9" x2="412.2" y2="418.9" stroke="#404040" stroke-width="1.1" />
<text x="408.9" y="423.8" font-size="14" font-weight="bold" fill="#000" text-anchor="end">0</text>
<line x1="410.5" y1="412.93" x2="411.9" y2="412.93" stroke="#404040" stroke-width="0.9" />
<line x1="410.5" y1="406.95" x2="411.9" y2="406.95" stroke="#404040" stroke-width="0.9" />
<line x1="410.5" y1="400.98" x2="411.9" y2="400.98" stroke="#404040" stroke-width="0.9" />
<line x1="410.5" y1="395" x2="411.9" y2="395" stroke="#404040" stroke-width="0.9" />
<line x1="410.5" y1="389.03" x2="411.9" y2="389.03" stroke="#404040" stroke-width="0.9" />
<line x1="410.5" y1="383.06" x2="411.9" y2="383.06" stroke="#404040" stroke-width="0.9" />
<line x1="410.5" y1="377.08" x2="411.9" y2="377.08" stroke="#404040" stroke-width="0.9" />
<line x1="410.5" y1="371.11" x2="411.9" y2="371.11" stroke="#404040" stroke-width="0.9" />
<line x1="410.5" y1="365.13" x2="411.9" y2="365.13" stroke="#404040" stroke-width="0.9" />
<line x1="409.4" y1="359.16" x2="412.2" y2="359.16" stroke="#404040" stroke-width="1.1" />
<text x="408.9" y="364.06" font-size="14" font-weight="bold" fill="#000" text-anchor="end">20</text>
<line x1="410.5" y1="353.19" x2="411.9" y2="353.19" stroke="#404040" stroke-width="0.9" />
<line x1="410.5" y1="347.21" x2="411.9" y2="347.21" stroke="#404040" stroke-width="0.9" />
<line x1="410.5" y1="341.24" x2="411.9" y2="341.24" stroke="#404040" stroke-width="0.9" />
<line x1="410.5" y1="335.26" x2="411.9" y2="335.26" stroke="#404040" stroke-width="0.9" />
<line x1="410.5" y1="329.29" x2="411.9" y2="329.29" stroke="#404040" stroke-width="0.9" />
<line x1="410.5" y1="323.32" x2="411.9" y2="323.32" stroke="#404040" stroke-width="0.9" />
<line x1="410.5" y1="317.34" x2="411.9" y2="317.34" stroke="#404040" stroke-width="0.9" />
<line x1="410.5" y1="311.37" x2="411.9" y2="311.37" stroke="#404040" stroke-width="0.9" />
<line x1="410.5" y1="305.39" x2="411.9" y2="305.39" stroke="#404040" stroke-width="0.9" />
<line x1="409.4" y1="299.42" x2="412.2" y2="299.42" stroke="#404040" stroke-width="1.1" />
<text x="408.9" y="304.32" font-size="14" font-weight="bold" fill="#000" text-anchor="end">40</text>
<line x1="410.5" y1="293.45" x2="411.9" y2="293.45" stroke="#404040" stroke-width="0.9" />
<line x1="410.5" y1="287.47" x2="411.9" y2="287.47" stroke="#404040" stroke-width="0.9" />
<line x1="410.5" y1="281.5" x2="411.9" y2="281.5" stroke="#404040" stroke-width="0.9" />
<line x1="410.5" y1="275.52" x2="411.9" y2="275.52" stroke="#404040" stroke-width="0.9" />
<line x1="410.5" y1="269.55" x2="411.9" y2="269.55" stroke="#404040" stroke-width="0.9" />
<line x1="410.5" y1="263.58" x2="411.9" y2="263.58" stroke="#404040" stroke-width="0.9" />
<line x1="410.5" y1="257.6" x2="411.9" y2="257.6" stroke="#404040" stroke-width="0.9" />
<line x1="410.5" y1="251.63" x2="411.9" y2="251.63" stroke="#404040" stroke-width="0.9" />
<line x1="410.5" y1="245.65" x2="411.9" y2="245.65" stroke="#404040" stroke-width="0.9" />
<line x1="409.4" y1="239.68" x2="412.2" y2="239.68" stroke="#404040" stroke-width="1.1" />
<text x="408.9" y="244.58" font-size="14" font-weight="bold" fill="#000" text-anchor="end">60</text>
<line x1="410.5" y1="233.71" x2="411.9" y2="233.71" stroke="#404040" stroke-width="0.9" />
<line x1="410.5" y1="227.73" x2="411.9" y2="227.73" stroke="#404040" stroke-width="0.9" />
<line x1="410.5" y1="221.76" x2="411.9" y2="221.76" stroke="#404040" stroke-width="0.9" />
<line x1="410.5" y1="215.78" x2="411.9" y2="215.78" stroke="#404040" stroke-width="0.9" />
<line x1="410.5" y1="209.81" x2="411.9" y2="209.81" stroke="#404040" stroke-width="0.9" />
<line x1="410.5" y1="203.84" x2="411.9" y2="203.84" stroke="#404040" stroke-width="0.9" />
<line x1="410.5" y1="197.86" x2="411.9" y2="197.86" stroke="#404040" stroke-width="0.9" />
<line x1="410.5" y1="191.89" x2="411.9" y2="191.89" stroke="#404040" stroke-width="0.9" />
<line x1="410.5" y1="185.91" x2="411.9" y2="185.91" stroke="#404040" stroke-width="0.9" />
<line x1="409.4" y1="179.94" x2="412.2" y2="179.94" stroke="#404040" stroke-width="1.1" />
<text x="408.9" y="184.84" font-size="14" font-weight="bold" fill="#000" text-anchor="end">80</text>
<line x1="410.5" y1="173.97" x2="411.9" y2="173.97" stroke="#404040" stroke-width="0.9" />
<line x1="410.5" y1="167.99" x2="411.9" y2="167.99" stroke="#404040" stroke-width="0.9" />
<line x1="410.5" y1="162.02" x2="411.9" y2="162.02" stroke="#404040" stroke-width="0.9" />
<line x1="410.5" y1="156.04" x2="411.9" y2="156.04" stroke="#404040" stroke-width="0.9" />
<line x1="410.5" y1="150.07" x2="411.9" y2="150.07" stroke="#404040" stroke-width="0.9" />
<line x1="410.5" y1="144.1" x2="411.9" y2="144.1" stroke="#404040" stroke-width="0.9" />
<line x1="410.5" y1="138.12" x2="411.9" y2="138.12" stroke="#404040" stroke-width="0.9" />
<line x1="410.5" y1="132.15" x2="411.9" y2="132.15" stroke="#404040" stroke-width="0.9" />
<line x1="410.5" y1="126.17" x2="411.9" y2="126.17" stroke="#404040" stroke-width="0.9" />
<line x1="409.4" y1="120.2" x2="412.2" y2="120.2" stroke="#404040" stroke-width="1.1" />
<text x="408.9" y="125.1" font-size="14" font-weight="bold" fill="#000" text-anchor="end">100</text>
<line x1="409.6" y1="418.9" x2="685" y2="418.9" stroke="#8a8a8a" stroke-width="1.7" />
<line x1="429.3" y1="346.4" x2="429.3" y2="353" stroke="#7a7a7a" stroke-width="1.3" />
<line x1="425.2" y1="346.4" x2="433.4" y2="346.4" stroke="#333" stroke-width="1.2" />
<rect x="421.3" y="353.5" width="16" height="65.4" fill="#000000" stroke="#404040" stroke-width="1"/>
<text x="429.3" y="435.2" font-size="13.3" font-weight="bold" fill="#000" text-anchor="middle">Ut-C</text>
<line x1="463.27" y1="321.3" x2="463.27" y2="334" stroke="#7a7a7a" stroke-width="1.3" />
<line x1="459.17" y1="321.3" x2="467.37" y2="321.3" stroke="#333" stroke-width="1.2" />
<rect x="455.27" y="334.5" width="16" height="84.4" fill="#c00000" stroke="#404040" stroke-width="1"/>
<text x="463.27" y="435.2" font-size="13.3" font-weight="bold" fill="#000" text-anchor="middle">Bl</text>
<line x1="497.24" y1="282.5" x2="497.24" y2="297.2" stroke="#7a7a7a" stroke-width="1.3" />
<line x1="493.14" y1="282.5" x2="501.34" y2="282.5" stroke="#333" stroke-width="1.2" />
<rect x="489.24" y="297.7" width="16" height="121.2" fill="url(#p1)" stroke="#404040" stroke-width="1"/>
<text x="497.24" y="435.2" font-size="13.3" font-weight="bold" fill="#000" text-anchor="middle">nBl</text>
<line x1="531.21" y1="216.8" x2="531.21" y2="234.6" stroke="#7a7a7a" stroke-width="1.3" />
<line x1="527.11" y1="216.8" x2="535.31" y2="216.8" stroke="#333" stroke-width="1.2" />
<rect x="523.21" y="235.1" width="16" height="183.8" fill="#7f3f00" stroke="#404040" stroke-width="1"/>
<text x="531.21" y="435.2" font-size="13.3" font-weight="bold" fill="#000" text-anchor="middle">MP</text>
<line x1="565.18" y1="190.2" x2="565.18" y2="207.3" stroke="#7a7a7a" stroke-width="1.3" />
<line x1="561.08" y1="190.2" x2="569.28" y2="190.2" stroke="#333" stroke-width="1.2" />
<rect x="557.18" y="207.8" width="16" height="211.1" fill="url(#p2)" stroke="#404040" stroke-width="1"/>
<text x="565.18" y="435.2" font-size="13.3" font-weight="bold" fill="#000" text-anchor="middle">nMP</text>
<line x1="599.15" y1="174.6" x2="599.15" y2="192" stroke="#7a7a7a" stroke-width="1.3" />
<line x1="595.05" y1="174.6" x2="603.25" y2="174.6" stroke="#333" stroke-width="1.2" />
<rect x="591.15" y="192.5" width="16" height="226.4" fill="#8000ff" stroke="#404040" stroke-width="1"/>
<text x="599.15" y="435.2" font-size="13.3" font-weight="bold" fill="#000" text-anchor="middle">BOP</text>
<line x1="633.12" y1="139.6" x2="633.12" y2="152.4" stroke="#7a7a7a" stroke-width="1.3" />
<line x1="629.02" y1="139.6" x2="637.22" y2="139.6" stroke="#333" stroke-width="1.2" />
<rect x="625.12" y="152.9" width="16" height="266" fill="url(#p3)" stroke="#404040" stroke-width="1"/>
<text x="633.12" y="435.2" font-size="13.3" font-weight="bold" fill="#000" text-anchor="middle">nBOP</text>
<line x1="667.09" y1="208.6" x2="667.09" y2="227.7" stroke="#7a7a7a" stroke-width="1.3" />
<line x1="662.99" y1="208.6" x2="671.19" y2="208.6" stroke="#333" stroke-width="1.2" />
<rect x="659.09" y="228.2" width="16" height="190.7" fill="#0000ff" stroke="#404040" stroke-width="1"/>
<text x="667.09" y="435.2" font-size="13.3" font-weight="bold" fill="#000" text-anchor="middle">Cl</text>
<text transform="translate(366.3,262.9) rotate(-90)" font-size="16" font-weight="bold" fill="#000" text-anchor="middle" textLength="299" lengthAdjust="spacingAndGlyphs">Percent inflammation reduction at end</text>
<text transform="translate(385,261.6) rotate(-90)" font-size="16" font-weight="bold" fill="#000" text-anchor="middle" textLength="122" lengthAdjust="spacingAndGlyphs">of treatment (%)</text>
<text x="554" y="468.6" font-size="16" font-weight="bold" fill="#303030" text-anchor="middle">(b)</text>
<path d="M429.4 16.5V12H667V16.5" fill="none" stroke="#505050" stroke-width="1.2"/>
<path d="M534.4 1.4L534.4 6.6M531.92 2.68L536.88 5.32M531.92 5.32L536.88 2.68" stroke="#000" stroke-width="1.55" stroke-linecap="round"/>
<circle cx="534.4" cy="4" r="1.01" fill="#000"/>
<path d="M544 1.4L544 6.6M541.52 2.68L546.48 5.32M541.52 5.32L546.48 2.68" stroke="#000" stroke-width="1.55" stroke-linecap="round"/>
<circle cx="544" cy="4" r="1.01" fill="#000"/>
<path d="M553.6 1.4L553.6 6.6M551.12 2.68L556.08 5.32M551.12 5.32L556.08 2.68" stroke="#000" stroke-width="1.55" stroke-linecap="round"/>
<circle cx="553.6" cy="4" r="1.01" fill="#000"/>
<path d="M563.2 1.4L563.2 6.6M560.72 2.68L565.68 5.32M560.72 5.32L565.68 2.68" stroke="#000" stroke-width="1.55" stroke-linecap="round"/>
<circle cx="563.2" cy="4" r="1.01" fill="#000"/>
<path d="M429.4 30.1V25.6H633V30.1" fill="none" stroke="#505050" stroke-width="1.2"/>
<path d="M517.4 15.2L517.4 20.4M514.92 16.48L519.88 19.12M514.92 19.12L519.88 16.48" stroke="#000" stroke-width="1.55" stroke-linecap="round"/>
<circle cx="517.4" cy="17.8" r="1.01" fill="#000"/>
<path d="M527 15.2L527 20.4M524.52 16.48L529.48 19.12M524.52 19.12L529.48 16.48" stroke="#000" stroke-width="1.55" stroke-linecap="round"/>
<circle cx="527" cy="17.8" r="1.01" fill="#000"/>
<path d="M536.6 15.2L536.6 20.4M534.12 16.48L539.08 19.12M534.12 19.12L539.08 16.48" stroke="#000" stroke-width="1.55" stroke-linecap="round"/>
<circle cx="536.6" cy="17.8" r="1.01" fill="#000"/>
<path d="M546.2 15.2L546.2 20.4M543.72 16.48L548.68 19.12M543.72 19.12L548.68 16.48" stroke="#000" stroke-width="1.55" stroke-linecap="round"/>
<circle cx="546.2" cy="17.8" r="1.01" fill="#000"/>
<path d="M429.4 44.1V39.6H599V44.1" fill="none" stroke="#505050" stroke-width="1.2"/>
<path d="M500.4 29.2L500.4 34.4M497.92 30.48L502.88 33.12M497.92 33.12L502.88 30.48" stroke="#000" stroke-width="1.55" stroke-linecap="round"/>
<circle cx="500.4" cy="31.8" r="1.01" fill="#000"/>
<path d="M510 29.2L510 34.4M507.52 30.48L512.48 33.12M507.52 33.12L512.48 30.48" stroke="#000" stroke-width="1.55" stroke-linecap="round"/>
<circle cx="510" cy="31.8" r="1.01" fill="#000"/>
<path d="M519.6 29.2L519.6 34.4M517.12 30.48L522.08 33.12M517.12 33.12L522.08 30.48" stroke="#000" stroke-width="1.55" stroke-linecap="round"/>
<circle cx="519.6" cy="31.8" r="1.01" fill="#000"/>
<path d="M529.2 29.2L529.2 34.4M526.72 30.48L531.68 33.12M526.72 33.12L531.68 30.48" stroke="#000" stroke-width="1.55" stroke-linecap="round"/>
<circle cx="529.2" cy="31.8" r="1.01" fill="#000"/>
<path d="M429.4 57.9V53.4H565V57.9" fill="none" stroke="#505050" stroke-width="1.2"/>
<path d="M483.4 43L483.4 48.2M480.92 44.28L485.88 46.92M480.92 46.92L485.88 44.28" stroke="#000" stroke-width="1.55" stroke-linecap="round"/>
<circle cx="483.4" cy="45.6" r="1.01" fill="#000"/>
<path d="M493 43L493 48.2M490.52 44.28L495.48 46.92M490.52 46.92L495.48 44.28" stroke="#000" stroke-width="1.55" stroke-linecap="round"/>
<circle cx="493" cy="45.6" r="1.01" fill="#000"/>
<path d="M502.6 43L502.6 48.2M500.12 44.28L505.08 46.92M500.12 46.92L505.08 44.28" stroke="#000" stroke-width="1.55" stroke-linecap="round"/>
<circle cx="502.6" cy="45.6" r="1.01" fill="#000"/>
<path d="M512.2 43L512.2 48.2M509.72 44.28L514.68 46.92M509.72 46.92L514.68 44.28" stroke="#000" stroke-width="1.55" stroke-linecap="round"/>
<circle cx="512.2" cy="45.6" r="1.01" fill="#000"/>
<path d="M429.4 72.9V68.4H531V72.9" fill="none" stroke="#505050" stroke-width="1.2"/>
<path d="M466.4 58L466.4 63.2M463.92 59.28L468.88 61.92M463.92 61.92L468.88 59.28" stroke="#000" stroke-width="1.55" stroke-linecap="round"/>
<circle cx="466.4" cy="60.6" r="1.01" fill="#000"/>
<path d="M476 58L476 63.2M473.52 59.28L478.48 61.92M473.52 61.92L478.48 59.28" stroke="#000" stroke-width="1.55" stroke-linecap="round"/>
<circle cx="476" cy="60.6" r="1.01" fill="#000"/>
<path d="M485.6 58L485.6 63.2M483.12 59.28L488.08 61.92M483.12 61.92L488.08 59.28" stroke="#000" stroke-width="1.55" stroke-linecap="round"/>
<circle cx="485.6" cy="60.6" r="1.01" fill="#000"/>
<path d="M495.2 58L495.2 63.2M492.72 59.28L497.68 61.92M492.72 61.92L497.68 59.28" stroke="#000" stroke-width="1.55" stroke-linecap="round"/>
<circle cx="495.2" cy="60.6" r="1.01" fill="#000"/>
<path d="M497 83.1V78.6H633V83.1" fill="none" stroke="#505050" stroke-width="1.2"/>
<path d="M551.2 68.2L551.2 73.4M548.72 69.48L553.68 72.12M548.72 72.12L553.68 69.48" stroke="#000" stroke-width="1.55" stroke-linecap="round"/>
<circle cx="551.2" cy="70.8" r="1.01" fill="#000"/>
<path d="M560.8 68.2L560.8 73.4M558.32 69.48L563.28 72.12M558.32 72.12L563.28 69.48" stroke="#000" stroke-width="1.55" stroke-linecap="round"/>
<circle cx="560.8" cy="70.8" r="1.01" fill="#000"/>
<path d="M570.4 68.2L570.4 73.4M567.92 69.48L572.88 72.12M567.92 72.12L572.88 69.48" stroke="#000" stroke-width="1.55" stroke-linecap="round"/>
<circle cx="570.4" cy="70.8" r="1.01" fill="#000"/>
<path d="M580 68.2L580 73.4M577.52 69.48L582.48 72.12M577.52 72.12L582.48 69.48" stroke="#000" stroke-width="1.55" stroke-linecap="round"/>
<circle cx="580" cy="70.8" r="1.01" fill="#000"/>
<path d="M497 96.1V91.6H565V96.1" fill="none" stroke="#505050" stroke-width="1.2"/>
<path d="M526.8 81.2L526.8 86.4M524.32 82.48L529.28 85.12M524.32 85.12L529.28 82.48" stroke="#000" stroke-width="1.55" stroke-linecap="round"/>
<circle cx="526.8" cy="83.8" r="1.01" fill="#000"/>
<path d="M536.4 81.2L536.4 86.4M533.92 82.48L538.88 85.12M533.92 85.12L538.88 82.48" stroke="#000" stroke-width="1.55" stroke-linecap="round"/>
<circle cx="536.4" cy="83.8" r="1.01" fill="#000"/>
<path d="M463.4 114.5V110H531.4V114.5" fill="none" stroke="#505050" stroke-width="1.2"/>
<path d="M488.4 99.6L488.4 104.8M485.92 100.88L490.88 103.52M485.92 103.52L490.88 100.88" stroke="#000" stroke-width="1.55" stroke-linecap="round"/>
<circle cx="488.4" cy="102.2" r="1.01" fill="#000"/>
<path d="M498 99.6L498 104.8M495.52 100.88L500.48 103.52M495.52 103.52L500.48 100.88" stroke="#000" stroke-width="1.55" stroke-linecap="round"/>
<circle cx="498" cy="102.2" r="1.01" fill="#000"/>
<path d="M507.6 99.6L507.6 104.8M505.12 100.88L510.08 103.52M505.12 103.52L510.08 100.88" stroke="#000" stroke-width="1.55" stroke-linecap="round"/>
<circle cx="507.6" cy="102.2" r="1.01" fill="#000"/>
<path d="M463.4 134.5V130H599V134.5" fill="none" stroke="#505050" stroke-width="1.2"/>
<path d="M517.4 119L517.4 124.2M514.92 120.28L519.88 122.92M514.92 122.92L519.88 120.28" stroke="#000" stroke-width="1.55" stroke-linecap="round"/>
<circle cx="517.4" cy="121.6" r="1.01" fill="#000"/>
<path d="M527 119L527 124.2M524.52 120.28L529.48 122.92M524.52 122.92L529.48 120.28" stroke="#000" stroke-width="1.55" stroke-linecap="round"/>
<circle cx="527" cy="121.6" r="1.01" fill="#000"/>
<path d="M536.6 119L536.6 124.2M534.12 120.28L539.08 122.92M534.12 122.92L539.08 120.28" stroke="#000" stroke-width="1.55" stroke-linecap="round"/>
<circle cx="536.6" cy="121.6" r="1.01" fill="#000"/>
<path d="M546.2 119L546.2 124.2M543.72 120.28L548.68 122.92M543.72 122.92L548.68 120.28" stroke="#000" stroke-width="1.55" stroke-linecap="round"/>
<circle cx="546.2" cy="121.6" r="1.01" fill="#000"/>
<path d="M632.6 134.5V130H667V134.5" fill="none" stroke="#505050" stroke-width="1.2"/>
<path d="M650.4 119.8L650.4 125M647.92 121.08L652.88 123.72M647.92 123.72L652.88 121.08" stroke="#000" stroke-width="1.55" stroke-linecap="round"/>
<circle cx="650.4" cy="122.4" r="1.01" fill="#000"/>
<line x1="59.5" y1="611.75" x2="59.5" y2="890" stroke="#222" stroke-width="1.1" />
<line x1="56.1" y1="890" x2="59.5" y2="890" stroke="#222" stroke-width="1.1" />
<text x="55" y="894.9" font-size="14" font-weight="bold" fill="#000" text-anchor="end">0</text>
<line x1="57.3" y1="884.45" x2="59.5" y2="884.45" stroke="#333" stroke-width="0.9" />
<line x1="57.3" y1="878.89" x2="59.5" y2="878.89" stroke="#333" stroke-width="0.9" />
<line x1="57.3" y1="873.34" x2="59.5" y2="873.34" stroke="#333" stroke-width="0.9" />
<line x1="57.3" y1="867.78" x2="59.5" y2="867.78" stroke="#333" stroke-width="0.9" />
<line x1="57.3" y1="862.23" x2="59.5" y2="862.23" stroke="#333" stroke-width="0.9" />
<line x1="57.3" y1="856.67" x2="59.5" y2="856.67" stroke="#333" stroke-width="0.9" />
<line x1="57.3" y1="851.12" x2="59.5" y2="851.12" stroke="#333" stroke-width="0.9" />
<line x1="57.3" y1="845.56" x2="59.5" y2="845.56" stroke="#333" stroke-width="0.9" />
<line x1="57.3" y1="840" x2="59.5" y2="840" stroke="#333" stroke-width="0.9" />
<line x1="56.1" y1="834.45" x2="59.5" y2="834.45" stroke="#222" stroke-width="1.1" />
<text x="55" y="839.35" font-size="14" font-weight="bold" fill="#000" text-anchor="end">1</text>
<line x1="57.3" y1="828.89" x2="59.5" y2="828.89" stroke="#333" stroke-width="0.9" />
<line x1="57.3" y1="823.34" x2="59.5" y2="823.34" stroke="#333" stroke-width="0.9" />
<line x1="57.3" y1="817.78" x2="59.5" y2="817.78" stroke="#333" stroke-width="0.9" />
<line x1="57.3" y1="812.23" x2="59.5" y2="812.23" stroke="#333" stroke-width="0.9" />
<line x1="57.3" y1="806.67" x2="59.5" y2="806.67" stroke="#333" stroke-width="0.9" />
<line x1="57.3" y1="801.12" x2="59.5" y2="801.12" stroke="#333" stroke-width="0.9" />
<line x1="57.3" y1="795.57" x2="59.5" y2="795.57" stroke="#333" stroke-width="0.9" />
<line x1="57.3" y1="790.01" x2="59.5" y2="790.01" stroke="#333" stroke-width="0.9" />
<line x1="57.3" y1="784.46" x2="59.5" y2="784.46" stroke="#333" stroke-width="0.9" />
<line x1="56.1" y1="778.9" x2="59.5" y2="778.9" stroke="#222" stroke-width="1.1" />
<text x="55" y="783.8" font-size="14" font-weight="bold" fill="#000" text-anchor="end">2</text>
<line x1="57.3" y1="773.35" x2="59.5" y2="773.35" stroke="#333" stroke-width="0.9" />
<line x1="57.3" y1="767.79" x2="59.5" y2="767.79" stroke="#333" stroke-width="0.9" />
<line x1="57.3" y1="762.24" x2="59.5" y2="762.24" stroke="#333" stroke-width="0.9" />
<line x1="57.3" y1="756.68" x2="59.5" y2="756.68" stroke="#333" stroke-width="0.9" />
<line x1="57.3" y1="751.12" x2="59.5" y2="751.12" stroke="#333" stroke-width="0.9" />
<line x1="57.3" y1="745.57" x2="59.5" y2="745.57" stroke="#333" stroke-width="0.9" />
<line x1="57.3" y1="740.01" x2="59.5" y2="740.01" stroke="#333" stroke-width="0.9" />
<line x1="57.3" y1="734.46" x2="59.5" y2="734.46" stroke="#333" stroke-width="0.9" />
<line x1="57.3" y1="728.9" x2="59.5" y2="728.9" stroke="#333" stroke-width="0.9" />
<line x1="56.1" y1="723.35" x2="59.5" y2="723.35" stroke="#222" stroke-width="1.1" />
<text x="55" y="728.25" font-size="14" font-weight="bold" fill="#000" text-anchor="end">3</text>
<line x1="57.3" y1="717.8" x2="59.5" y2="717.8" stroke="#333" stroke-width="0.9" />
<line x1="57.3" y1="712.24" x2="59.5" y2="712.24" stroke="#333" stroke-width="0.9" />
<line x1="57.3" y1="706.69" x2="59.5" y2="706.69" stroke="#333" stroke-width="0.9" />
<line x1="57.3" y1="701.13" x2="59.5" y2="701.13" stroke="#333" stroke-width="0.9" />
<line x1="57.3" y1="695.58" x2="59.5" y2="695.58" stroke="#333" stroke-width="0.9" />
<line x1="57.3" y1="690.02" x2="59.5" y2="690.02" stroke="#333" stroke-width="0.9" />
<line x1="57.3" y1="684.47" x2="59.5" y2="684.47" stroke="#333" stroke-width="0.9" />
<line x1="57.3" y1="678.91" x2="59.5" y2="678.91" stroke="#333" stroke-width="0.9" />
<line x1="57.3" y1="673.36" x2="59.5" y2="673.36" stroke="#333" stroke-width="0.9" />
<line x1="56.1" y1="667.8" x2="59.5" y2="667.8" stroke="#222" stroke-width="1.1" />
<text x="55" y="672.7" font-size="14" font-weight="bold" fill="#000" text-anchor="end">4</text>
<line x1="57.3" y1="662.25" x2="59.5" y2="662.25" stroke="#333" stroke-width="0.9" />
<line x1="57.3" y1="656.69" x2="59.5" y2="656.69" stroke="#333" stroke-width="0.9" />
<line x1="57.3" y1="651.13" x2="59.5" y2="651.13" stroke="#333" stroke-width="0.9" />
<line x1="57.3" y1="645.58" x2="59.5" y2="645.58" stroke="#333" stroke-width="0.9" />
<line x1="57.3" y1="640.02" x2="59.5" y2="640.02" stroke="#333" stroke-width="0.9" />
<line x1="57.3" y1="634.47" x2="59.5" y2="634.47" stroke="#333" stroke-width="0.9" />
<line x1="57.3" y1="628.91" x2="59.5" y2="628.91" stroke="#333" stroke-width="0.9" />
<line x1="57.3" y1="623.36" x2="59.5" y2="623.36" stroke="#333" stroke-width="0.9" />
<line x1="57.3" y1="617.81" x2="59.5" y2="617.81" stroke="#333" stroke-width="0.9" />
<line x1="56.1" y1="612.25" x2="59.5" y2="612.25" stroke="#222" stroke-width="1.1" />
<text x="55" y="617.15" font-size="14" font-weight="bold" fill="#000" text-anchor="end">5</text>
<line x1="56.1" y1="890" x2="323" y2="890" stroke="#777" stroke-width="1.5" />
<line x1="74.2" y1="668.4" x2="74.2" y2="683.6" stroke="#222" stroke-width="1" />
<line x1="70.8" y1="668.4" x2="77.6" y2="668.4" stroke="#333" stroke-width="1.2" />
<rect x="67.7" y="684.1" width="13" height="205.9" fill="#000000" stroke="#222" stroke-width="1"/>
<text x="74.2" y="905.2" font-size="10.8" font-weight="bold" fill="#000" text-anchor="middle">Ut-C</text>
<line x1="103.4" y1="710.4" x2="103.4" y2="717.4" stroke="#222" stroke-width="1" />
<line x1="100" y1="710.4" x2="106.8" y2="710.4" stroke="#333" stroke-width="1.2" />
<rect x="96.9" y="717.9" width="13" height="172.1" fill="#c00000" stroke="#222" stroke-width="1"/>
<text x="103.4" y="905.2" font-size="10.8" font-weight="bold" fill="#000" text-anchor="middle">Bl</text>
<line x1="132.6" y1="717.6" x2="132.6" y2="727.6" stroke="#222" stroke-width="1" />
<line x1="129.2" y1="717.6" x2="136" y2="717.6" stroke="#333" stroke-width="1.2" />
<rect x="126.1" y="728.1" width="13" height="161.9" fill="url(#p4)" stroke="#222" stroke-width="1"/>
<text x="132.6" y="905.2" font-size="10.8" font-weight="bold" fill="#000" text-anchor="middle">nBl</text>
<line x1="161.8" y1="750.4" x2="161.8" y2="756.4" stroke="#222" stroke-width="1" />
<line x1="158.4" y1="750.4" x2="165.2" y2="750.4" stroke="#333" stroke-width="1.2" />
<rect x="155.3" y="756.9" width="13" height="133.1" fill="#0000ff" stroke="#222" stroke-width="1"/>
<text x="161.8" y="905.2" font-size="10.8" font-weight="bold" fill="#000" text-anchor="middle">Cl</text>
<line x1="191" y1="767" x2="191" y2="772.4" stroke="#222" stroke-width="1" />
<line x1="187.6" y1="767" x2="194.4" y2="767" stroke="#333" stroke-width="1.2" />
<rect x="184.5" y="772.9" width="13" height="117.1" fill="#7f3f00" stroke="#222" stroke-width="1"/>
<text x="191" y="905.2" font-size="10.8" font-weight="bold" fill="#000" text-anchor="middle">MP</text>
<line x1="220.2" y1="777" x2="220.2" y2="781.9" stroke="#222" stroke-width="1" />
<line x1="216.8" y1="777" x2="223.6" y2="777" stroke="#333" stroke-width="1.2" />
<rect x="213.7" y="782.4" width="13" height="107.6" fill="url(#p5)" stroke="#222" stroke-width="1"/>
<text x="220.2" y="905.2" font-size="10.8" font-weight="bold" fill="#000" text-anchor="middle">nMP</text>
<line x1="249.4" y1="783.3" x2="249.4" y2="788.4" stroke="#222" stroke-width="1" />
<line x1="246" y1="783.3" x2="252.8" y2="783.3" stroke="#333" stroke-width="1.2" />
<rect x="242.9" y="788.9" width="13" height="101.1" fill="#8000ff" stroke="#222" stroke-width="1"/>
<text x="249.4" y="905.2" font-size="10.8" font-weight="bold" fill="#000" text-anchor="middle">BOP</text>
<line x1="278.6" y1="815.5" x2="278.6" y2="817" stroke="#222" stroke-width="1" />
<line x1="275.2" y1="815.5" x2="282" y2="815.5" stroke="#333" stroke-width="1.2" />
<rect x="272.1" y="817.5" width="13" height="72.5" fill="url(#p6)" stroke="#222" stroke-width="1"/>
<text x="278.6" y="905.2" font-size="10.8" font-weight="bold" fill="#000" text-anchor="middle">nBOP</text>
<line x1="307.8" y1="817.4" x2="307.8" y2="824.9" stroke="#222" stroke-width="1" />
<line x1="304.4" y1="817.4" x2="311.2" y2="817.4" stroke="#333" stroke-width="1.2" />
<rect x="300.8" y="824.9" width="14" height="65.1" fill="#a0a0a8"/>
<text x="307.8" y="905.2" font-size="10.8" font-weight="bold" fill="#000" text-anchor="middle">HC</text>
<text transform="translate(12.2,748.5) rotate(-90)" font-size="15" font-weight="bold" fill="#000" text-anchor="middle" textLength="287" lengthAdjust="spacingAndGlyphs">Level of NF-<tspan font-weight="normal">κ</tspan>B in ear tissue homogenate</text>
<text transform="translate(28.7,748.1) rotate(-90)" font-size="14.5" font-weight="bold" fill="#000" text-anchor="middle" textLength="49.5" lengthAdjust="spacingAndGlyphs">(ng/ml)</text>
<text x="199.3" y="936.6" font-size="16" font-weight="bold" fill="#303030" text-anchor="middle">(c)</text>
<path d="M74 540.9V536.4H278.6V540.9" fill="none" stroke="#505050" stroke-width="1.2"/>
<path d="M167.3 526.6L167.3 531.8M164.82 527.88L169.78 530.52M164.82 530.52L169.78 527.88" stroke="#000" stroke-width="1.55" stroke-linecap="round"/>
<circle cx="167.3" cy="529.2" r="1.01" fill="#000"/>
<path d="M176.9 526.6L176.9 531.8M174.42 527.88L179.38 530.52M174.42 530.52L179.38 527.88" stroke="#000" stroke-width="1.55" stroke-linecap="round"/>
<circle cx="176.9" cy="529.2" r="1.01" fill="#000"/>
<path d="M186.5 526.6L186.5 531.8M184.02 527.88L188.98 530.52M184.02 530.52L188.98 527.88" stroke="#000" stroke-width="1.55" stroke-linecap="round"/>
<circle cx="186.5" cy="529.2" r="1.01" fill="#000"/>
<path d="M74 560.1V555.6H249.6V560.1" fill="none" stroke="#505050" stroke-width="1.2"/>
<path d="M152.8 545.4L152.8 550.6M150.32 546.68L155.28 549.32M150.32 549.32L155.28 546.68" stroke="#000" stroke-width="1.55" stroke-linecap="round"/>
<circle cx="152.8" cy="548" r="1.01" fill="#000"/>
<path d="M162.4 545.4L162.4 550.6M159.92 546.68L164.88 549.32M159.92 549.32L164.88 546.68" stroke="#000" stroke-width="1.55" stroke-linecap="round"/>
<circle cx="162.4" cy="548" r="1.01" fill="#000"/>
<path d="M172 545.4L172 550.6M169.52 546.68L174.48 549.32M169.52 549.32L174.48 546.68" stroke="#000" stroke-width="1.55" stroke-linecap="round"/>
<circle cx="172" cy="548" r="1.01" fill="#000"/>
<path d="M163.4 578.5V574H309.6V578.5" fill="none" stroke="#505050" stroke-width="1.2"/>
<path d="M227.5 563.8L227.5 569M225.02 565.08L229.98 567.72M225.02 567.72L229.98 565.08" stroke="#000" stroke-width="1.55" stroke-linecap="round"/>
<circle cx="227.5" cy="566.4" r="1.01" fill="#000"/>
<path d="M237.1 563.8L237.1 569M234.62 565.08L239.58 567.72M234.62 567.72L239.58 565.08" stroke="#000" stroke-width="1.55" stroke-linecap="round"/>
<circle cx="237.1" cy="566.4" r="1.01" fill="#000"/>
<path d="M246.7 563.8L246.7 569M244.22 565.08L249.18 567.72M244.22 567.72L249.18 565.08" stroke="#000" stroke-width="1.55" stroke-linecap="round"/>
<circle cx="246.7" cy="566.4" r="1.01" fill="#000"/>
<path d="M192.4 596.9V592.4H309.6V596.9" fill="none" stroke="#505050" stroke-width="1.2"/>
<path d="M242 582L242 587.2M239.52 583.28L244.48 585.92M239.52 585.92L244.48 583.28" stroke="#000" stroke-width="1.55" stroke-linecap="round"/>
<circle cx="242" cy="584.6" r="1.01" fill="#000"/>
<path d="M251.6 582L251.6 587.2M249.12 583.28L254.08 585.92M249.12 585.92L254.08 583.28" stroke="#000" stroke-width="1.55" stroke-linecap="round"/>
<circle cx="251.6" cy="584.6" r="1.01" fill="#000"/>
<path d="M261.2 582L261.2 587.2M258.72 583.28L263.68 585.92M258.72 585.92L263.68 583.28" stroke="#000" stroke-width="1.55" stroke-linecap="round"/>
<circle cx="261.2" cy="584.6" r="1.01" fill="#000"/>
<path d="M74 616.1V611.6H218.6V616.1" fill="none" stroke="#505050" stroke-width="1.2"/>
<path d="M137.3 601L137.3 606.2M134.82 602.28L139.78 604.92M134.82 604.92L139.78 602.28" stroke="#000" stroke-width="1.55" stroke-linecap="round"/>
<circle cx="137.3" cy="603.6" r="1.01" fill="#000"/>
<path d="M146.9 601L146.9 606.2M144.42 602.28L149.38 604.92M144.42 604.92L149.38 602.28" stroke="#000" stroke-width="1.55" stroke-linecap="round"/>
<circle cx="146.9" cy="603.6" r="1.01" fill="#000"/>
<path d="M156.5 601L156.5 606.2M154.02 602.28L158.98 604.92M154.02 604.92L158.98 602.28" stroke="#000" stroke-width="1.55" stroke-linecap="round"/>
<circle cx="156.5" cy="603.6" r="1.01" fill="#000"/>
<path d="M223.4 616.1V611.6H309.6V616.1" fill="none" stroke="#505050" stroke-width="1.2"/>
<path d="M262.3 600.4L262.3 605.6M259.82 601.68L264.78 604.32M259.82 604.32L264.78 601.68" stroke="#000" stroke-width="1.55" stroke-linecap="round"/>
<circle cx="262.3" cy="603" r="1.01" fill="#000"/>
<path d="M271.9 600.4L271.9 605.6M269.42 601.68L274.38 604.32M269.42 604.32L274.38 601.68" stroke="#000" stroke-width="1.55" stroke-linecap="round"/>
<circle cx="271.9" cy="603" r="1.01" fill="#000"/>
<path d="M74 634.5V630H191V634.5" fill="none" stroke="#505050" stroke-width="1.2"/>
<path d="M123.5 619.4L123.5 624.6M121.02 620.68L125.98 623.32M121.02 623.32L125.98 620.68" stroke="#000" stroke-width="1.55" stroke-linecap="round"/>
<circle cx="123.5" cy="622" r="1.01" fill="#000"/>
<path d="M133.1 619.4L133.1 624.6M130.62 620.68L135.58 623.32M130.62 623.32L135.58 620.68" stroke="#000" stroke-width="1.55" stroke-linecap="round"/>
<circle cx="133.1" cy="622" r="1.01" fill="#000"/>
<path d="M142.7 619.4L142.7 624.6M140.22 620.68L145.18 623.32M140.22 623.32L145.18 620.68" stroke="#000" stroke-width="1.55" stroke-linecap="round"/>
<circle cx="142.7" cy="622" r="1.01" fill="#000"/>
<path d="M251.4 634.5V630H309.6V634.5" fill="none" stroke="#505050" stroke-width="1.2"/>
<path d="M281.1 619.4L281.1 624.6M278.62 620.68L283.58 623.32M278.62 623.32L283.58 620.68" stroke="#000" stroke-width="1.55" stroke-linecap="round"/>
<circle cx="281.1" cy="622" r="1.01" fill="#000"/>
<path d="M74 658.5V654H161.6V658.5" fill="none" stroke="#505050" stroke-width="1.2"/>
<path d="M108.8 643.4L108.8 648.6M106.32 644.68L111.28 647.32M106.32 647.32L111.28 644.68" stroke="#000" stroke-width="1.55" stroke-linecap="round"/>
<circle cx="108.8" cy="646" r="1.01" fill="#000"/>
<path d="M118.4 643.4L118.4 648.6M115.92 644.68L120.88 647.32M115.92 647.32L120.88 644.68" stroke="#000" stroke-width="1.55" stroke-linecap="round"/>
<circle cx="118.4" cy="646" r="1.01" fill="#000"/>
<path d="M128 643.4L128 648.6M125.52 644.68L130.48 647.32M125.52 647.32L130.48 644.68" stroke="#000" stroke-width="1.55" stroke-linecap="round"/>
<circle cx="128" cy="646" r="1.01" fill="#000"/>
<path d="M280.4 658.5V654H309.6V658.5" fill="none" stroke="#505050" stroke-width="1.2"/>
<text x="295" y="649" font-size="13.5" font-weight="normal" fill="#000" text-anchor="middle">ns</text>
<path d="M132.4 690.1V685.6H278.6V690.1" fill="none" stroke="#505050" stroke-width="1.2"/>
<path d="M196.5 675L196.5 680.2M194.02 676.28L198.98 678.92M194.02 678.92L198.98 676.28" stroke="#000" stroke-width="1.55" stroke-linecap="round"/>
<circle cx="196.5" cy="677.6" r="1.01" fill="#000"/>
<path d="M206.1 675L206.1 680.2M203.62 676.28L208.58 678.92M203.62 678.92L208.58 676.28" stroke="#000" stroke-width="1.55" stroke-linecap="round"/>
<circle cx="206.1" cy="677.6" r="1.01" fill="#000"/>
<path d="M215.7 675L215.7 680.2M213.22 676.28L218.18 678.92M213.22 678.92L218.18 676.28" stroke="#000" stroke-width="1.55" stroke-linecap="round"/>
<circle cx="215.7" cy="677.6" r="1.01" fill="#000"/>
<line x1="403" y1="551" x2="403" y2="888.9" stroke="#2a2a2a" stroke-width="1.5" />
<line x1="399.4" y1="888.9" x2="403" y2="888.9" stroke="#444" stroke-width="1.1" />
<text x="392.6" y="893.8" font-size="12" font-weight="bold" fill="#000" text-anchor="end">10</text>
<text x="393.8" y="889.5" font-size="8.2" font-weight="bold" fill="#000" text-anchor="start">0</text>
<line x1="399.4" y1="804.55" x2="403" y2="804.55" stroke="#444" stroke-width="1.1" />
<text x="392.6" y="809.45" font-size="12" font-weight="bold" fill="#000" text-anchor="end">10</text>
<text x="393.8" y="805.15" font-size="8.2" font-weight="bold" fill="#000" text-anchor="start">1</text>
<line x1="399.4" y1="720.2" x2="403" y2="720.2" stroke="#444" stroke-width="1.1" />
<text x="392.6" y="725.1" font-size="12" font-weight="bold" fill="#000" text-anchor="end">10</text>
<text x="393.8" y="720.8" font-size="8.2" font-weight="bold" fill="#000" text-anchor="start">2</text>
<line x1="399.4" y1="635.85" x2="403" y2="635.85" stroke="#444" stroke-width="1.1" />
<text x="392.6" y="640.75" font-size="12" font-weight="bold" fill="#000" text-anchor="end">10</text>
<text x="393.8" y="636.45" font-size="8.2" font-weight="bold" fill="#000" text-anchor="start">3</text>
<line x1="399.4" y1="551.5" x2="403" y2="551.5" stroke="#444" stroke-width="1.1" />
<text x="392.6" y="556.4" font-size="12" font-weight="bold" fill="#000" text-anchor="end">10</text>
<text x="393.8" y="552.1" font-size="8.2" font-weight="bold" fill="#000" text-anchor="start">4</text>
<line x1="399.4" y1="888.9" x2="648.4" y2="888.9" stroke="#333" stroke-width="1.4" />
<line x1="418.5" y1="615" x2="418.5" y2="624.8" stroke="#444" stroke-width="1.1" />
<line x1="414.5" y1="615" x2="422.5" y2="615" stroke="#333" stroke-width="1.2" />
<rect x="411.5" y="625.3" width="14" height="263.6" fill="#000000" stroke="#222" stroke-width="1"/>
<line x1="418.5" y1="888.9" x2="418.5" y2="892.6" stroke="#444" stroke-width="1.1" />
<text x="418.5" y="907.2" font-size="11.6" font-weight="bold" fill="#000" text-anchor="middle">Ut-C</text>
<line x1="449.1" y1="673.6" x2="449.1" y2="748.4" stroke="#444" stroke-width="1.1" />
<line x1="445.1" y1="673.6" x2="453.1" y2="673.6" stroke="#333" stroke-width="1.2" />
<rect x="442.1" y="748.9" width="14" height="140" fill="#c00000" stroke="#222" stroke-width="1"/>
<line x1="449.1" y1="888.9" x2="449.1" y2="892.6" stroke="#444" stroke-width="1.1" />
<text x="449.1" y="907.2" font-size="11.6" font-weight="bold" fill="#000" text-anchor="middle">Bl</text>
<line x1="479.7" y1="680.6" x2="479.7" y2="725.4" stroke="#444" stroke-width="1.1" />
<line x1="475.7" y1="680.6" x2="483.7" y2="680.6" stroke="#333" stroke-width="1.2" />
<rect x="472.7" y="725.9" width="14" height="163" fill="url(#p7)" stroke="#222" stroke-width="1"/>
<line x1="479.7" y1="888.9" x2="479.7" y2="892.6" stroke="#444" stroke-width="1.1" />
<text x="479.7" y="907.2" font-size="11.6" font-weight="bold" fill="#000" text-anchor="middle">nBl</text>
<line x1="510.3" y1="734.9" x2="510.3" y2="772.1" stroke="#444" stroke-width="1.1" />
<line x1="506.3" y1="734.9" x2="514.3" y2="734.9" stroke="#333" stroke-width="1.2" />
<rect x="503.3" y="772.6" width="14" height="116.3" fill="#0000ff" stroke="#222" stroke-width="1"/>
<line x1="510.3" y1="888.9" x2="510.3" y2="892.6" stroke="#444" stroke-width="1.1" />
<text x="510.3" y="907.2" font-size="11.6" font-weight="bold" fill="#000" text-anchor="middle">Cl</text>
<line x1="540.9" y1="797" x2="540.9" y2="833" stroke="#444" stroke-width="1.1" />
<line x1="536.9" y1="797" x2="544.9" y2="797" stroke="#333" stroke-width="1.2" />
<rect x="533.9" y="833.5" width="14" height="55.4" fill="#7f3f00" stroke="#222" stroke-width="1"/>
<line x1="540.9" y1="888.9" x2="540.9" y2="892.6" stroke="#444" stroke-width="1.1" />
<text x="540.9" y="907.2" font-size="11.6" font-weight="bold" fill="#000" text-anchor="middle">MP</text>
<line x1="571.5" y1="817.5" x2="571.5" y2="847.1" stroke="#444" stroke-width="1.1" />
<line x1="567.5" y1="817.5" x2="575.5" y2="817.5" stroke="#333" stroke-width="1.2" />
<rect x="564.5" y="847.6" width="14" height="41.3" fill="url(#p8)" stroke="#222" stroke-width="1"/>
<line x1="571.5" y1="888.9" x2="571.5" y2="892.6" stroke="#444" stroke-width="1.1" />
<text x="571.5" y="907.2" font-size="11.6" font-weight="bold" fill="#000" text-anchor="middle">nMP</text>
<line x1="602.1" y1="843" x2="602.1" y2="861" stroke="#444" stroke-width="1.1" />
<line x1="598.1" y1="843" x2="606.1" y2="843" stroke="#333" stroke-width="1.2" />
<rect x="595.1" y="861.5" width="14" height="27.4" fill="#8000ff" stroke="#222" stroke-width="1"/>
<line x1="602.1" y1="888.9" x2="602.1" y2="892.6" stroke="#444" stroke-width="1.1" />
<text x="602.1" y="907.2" font-size="11.6" font-weight="bold" fill="#000" text-anchor="middle">BOP</text>
<line x1="632.7" y1="817.5" x2="632.7" y2="847.1" stroke="#444" stroke-width="1.1" />
<line x1="628.7" y1="817.5" x2="636.7" y2="817.5" stroke="#333" stroke-width="1.2" />
<rect x="625.7" y="847.6" width="14" height="41.3" fill="url(#p9)" stroke="#222" stroke-width="1"/>
<line x1="632.7" y1="888.9" x2="632.7" y2="892.6" stroke="#444" stroke-width="1.1" />
<text x="632.7" y="907.2" font-size="11.6" font-weight="bold" fill="#000" text-anchor="middle">nBOP</text>
<text transform="translate(359.8,708.8) rotate(-90)" font-size="14.3" font-weight="bold" fill="#000" text-anchor="middle" textLength="343" lengthAdjust="spacingAndGlyphs">Bacterial load (<tspan font-style="italic">C. acnes</tspan>) in ear tissue homogenate</text>
<text transform="translate(377,709.2) rotate(-90)" font-size="14.3" font-weight="bold" fill="#000" text-anchor="middle" textLength="59" lengthAdjust="spacingAndGlyphs">(CFU/ml)</text>
<text x="554.4" y="936.6" font-size="16" font-weight="bold" fill="#303030" text-anchor="middle">(d)</text>
<path d="M416.6 536.4V531.9H631.4V536.4" fill="none" stroke="#505050" stroke-width="1.2"/>
<path d="M516 522.2L516 527.2M513.62 523.43L518.38 525.97M513.62 525.97L518.38 523.43" stroke="#000" stroke-width="1.6" stroke-linecap="round"/>
<circle cx="516" cy="524.7" r="1.04" fill="#000"/>
<path d="M525 522.2L525 527.2M522.62 523.43L527.38 525.97M522.62 525.97L527.38 523.43" stroke="#000" stroke-width="1.6" stroke-linecap="round"/>
<circle cx="525" cy="524.7" r="1.04" fill="#000"/>
<path d="M534 522.2L534 527.2M531.62 523.43L536.38 525.97M531.62 525.97L536.38 523.43" stroke="#000" stroke-width="1.6" stroke-linecap="round"/>
<circle cx="534" cy="524.7" r="1.04" fill="#000"/>
<path d="M416.6 555V550.5H600.7V555" fill="none" stroke="#505050" stroke-width="1.2"/>
<path d="M500.65 540.4L500.65 545.4M498.27 541.63L503.03 544.17M498.27 544.17L503.03 541.63" stroke="#000" stroke-width="1.6" stroke-linecap="round"/>
<circle cx="500.65" cy="542.9" r="1.04" fill="#000"/>
<path d="M509.65 540.4L509.65 545.4M507.27 541.63L512.03 544.17M507.27 544.17L512.03 541.63" stroke="#000" stroke-width="1.6" stroke-linecap="round"/>
<circle cx="509.65" cy="542.9" r="1.04" fill="#000"/>
<path d="M518.65 540.4L518.65 545.4M516.27 541.63L521.03 544.17M516.27 544.17L521.03 541.63" stroke="#000" stroke-width="1.6" stroke-linecap="round"/>
<circle cx="518.65" cy="542.9" r="1.04" fill="#000"/>
<path d="M416.6 573.2V568.7H570V573.2" fill="none" stroke="#505050" stroke-width="1.2"/>
<path d="M485.3 558.6L485.3 563.6M482.92 559.83L487.68 562.37M482.92 562.37L487.68 559.83" stroke="#000" stroke-width="1.6" stroke-linecap="round"/>
<circle cx="485.3" cy="561.1" r="1.04" fill="#000"/>
<path d="M494.3 558.6L494.3 563.6M491.92 559.83L496.68 562.37M491.92 562.37L496.68 559.83" stroke="#000" stroke-width="1.6" stroke-linecap="round"/>
<circle cx="494.3" cy="561.1" r="1.04" fill="#000"/>
<path d="M503.3 558.6L503.3 563.6M500.92 559.83L505.68 562.37M500.92 562.37L505.68 559.83" stroke="#000" stroke-width="1.6" stroke-linecap="round"/>
<circle cx="503.3" cy="561.1" r="1.04" fill="#000"/>
<path d="M416.6 591.5V587H539.4V591.5" fill="none" stroke="#505050" stroke-width="1.2"/>
<path d="M470 576.9L470 581.9M467.62 578.13L472.38 580.67M467.62 580.67L472.38 578.13" stroke="#000" stroke-width="1.6" stroke-linecap="round"/>
<circle cx="470" cy="579.4" r="1.04" fill="#000"/>
<path d="M479 576.9L479 581.9M476.62 578.13L481.38 580.67M476.62 580.67L481.38 578.13" stroke="#000" stroke-width="1.6" stroke-linecap="round"/>
<circle cx="479" cy="579.4" r="1.04" fill="#000"/>
<path d="M488 576.9L488 581.9M485.62 578.13L490.38 580.67M485.62 580.67L490.38 578.13" stroke="#000" stroke-width="1.6" stroke-linecap="round"/>
<circle cx="488" cy="579.4" r="1.04" fill="#000"/>
<path d="M416.6 609.7V605.2H508.8V609.7" fill="none" stroke="#505050" stroke-width="1.2"/>
<path d="M463.7 594.7L463.7 599.7M461.32 595.93L466.08 598.47M461.32 598.47L466.08 595.93" stroke="#000" stroke-width="1.6" stroke-linecap="round"/>
<circle cx="463.7" cy="597.2" r="1.04" fill="#000"/></svg>
</body></html>
